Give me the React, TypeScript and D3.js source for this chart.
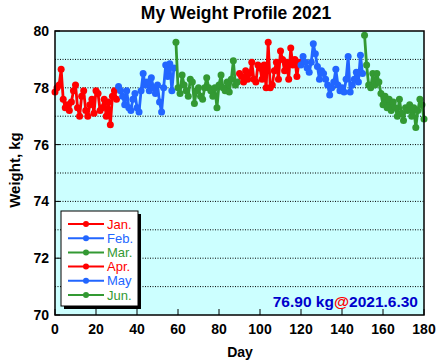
import React from "react";
import * as d3 from "d3";

// monthly weights, day index 0 = Jan 1
const janDays = d3.range(0, 31);
const janVals = [77.85, 78.0, 78.1, 78.65, 77.6, 77.3, 77.4, 77.2, 77.5, 77.9, 78.1, 77.3, 77.0, 77.7, 77.9, 77.2, 77.0, 77.4, 77.6, 77.1, 77.9, 77.8, 77.2, 77.3, 77.6, 77.0, 77.5, 76.7, 77.7, 77.9, 77.6];
const febDays = d3.range(31, 59);
const febVals = [78.05, 77.9, 77.7, 77.4, 77.9, 77.3, 77.2, 77.6, 77.8, 77.3, 77.15, 77.9, 78.5, 78.1, 78.2, 77.9, 78.35, 78.0, 77.8, 78.1, 77.5, 77.15, 78.0, 78.8, 78.4, 78.85, 77.9, 78.7];
const marDays = d3.range(59, 90);
const marVals = [79.6, 78.0, 77.8, 78.45, 78.1, 77.9, 77.7, 78.3, 78.2, 77.45, 77.9, 78.0, 77.7, 77.6, 78.0, 78.35, 78.0, 77.9, 77.7, 78.0, 77.3, 78.1, 78.45, 78.0, 77.9, 78.2, 77.85, 78.3, 78.95, 78.1, 78.2];
const aprDays = d3.range(90, 120);
const aprVals = [78.5, 78.4, 78.2, 78.6, 78.3, 78.5, 78.9, 78.3, 78.2, 78.8, 78.7, 78.3, 78.8, 78.0, 79.6, 78.0, 78.1, 78.6, 78.9, 78.3, 79.3, 79.0, 78.6, 78.9, 78.3, 79.4, 78.8, 79.0, 78.4, 78.9];
const mayDays = d3.range(120, 151);
const mayVals = [78.8, 79.1, 78.9, 78.7, 78.55, 78.9, 79.55, 79.2, 78.75, 78.3, 78.6, 78.5, 78.3, 78.1, 77.75, 78.0, 78.2, 78.65, 78.1, 77.9, 78.0, 77.85, 78.3, 79.1, 77.85, 78.1, 78.3, 78.55, 78.2, 79.15, 78.5];
const junDays = d3.range(151, 181);
const junVals = [79.85, 78.8, 78.1, 78.0, 78.5, 78.1, 78.5, 78.2, 77.8, 77.4, 77.7, 77.3, 77.6, 77.2, 77.5, 77.3, 77.0, 77.6, 77.1, 76.85, 77.3, 77.2, 77.4, 77.0, 77.3, 76.6, 77.2, 77.6, 77.4, 76.9];

const monthNames = ["Jan.", "Feb.", "Mar.", "Apr.", "May", "Jun."];
const monthColors = ["#ff0000", "#2266ff", "#339933", "#ff0000", "#2266ff", "#339933"];
const xTicks = [0, 20, 40, 60, 80, 100, 120, 140, 160, 180];
const yTicks = [70, 72, 74, 76, 78, 80];
const gridVals = [71, 72, 73, 74, 75, 76, 77, 78, 79];

const series = [
  [janDays, janVals],
  [febDays, febVals],
  [marDays, marVals],
  [aprDays, aprVals],
  [mayDays, mayVals],
  [junDays, junVals],
].map(([days, vals], i) => ({
  name: monthNames[i],
  color: monthColors[i],
  points: (days as number[]).map((d, j) => ({ x: d, y: (vals as number[])[j] })),
}));

export default function App() {
  const W = 441;
  const H = 364;
  const left = 55, right = 424, top = 31, bottom = 315;
  const font = "'Liberation Sans', Arial, sans-serif";

  const x = d3.scaleLinear().domain([0, 180]).range([left, right]);
  const y = d3.scaleLinear().domain([70, 80]).range([bottom, top]);
  const line = d3.line<{ x: number; y: number }>().x((d) => x(d.x)).y((d) => y(d.y));

  // legend box
  const lx = 61, ly = 211, lw = 77, lh = 95;

  return (
    <div style={{ position: "absolute", left: 0, top: 0 }}>
      <svg width={W} height={H} style={{ display: "block", background: "#fff" }} fontFamily={font}>
        <text x={236} y={19} textAnchor="middle" fontSize={17.5} fontWeight="bold">My Weight Profile 2021</text>
        <rect x={left} y={top} width={right - left} height={bottom - top} fill="#ccffff" />
        {gridVals.map((g) => (
          <line key={g} x1={left} x2={right} y1={y(g)} y2={y(g)} stroke="#000" strokeWidth={1} strokeDasharray="1,1.5" />
        ))}
        {yTicks.map((t) => (
          <g key={t}>
            <line x1={left} x2={left + 5} y1={y(t)} y2={y(t)} stroke="#000" />
            <text x={left - 6} y={y(t)} dy="0.35em" textAnchor="end" fontSize={14} fontWeight="bold">{t}</text>
          </g>
        ))}
        {xTicks.map((t) => (
          <g key={t}>
            <line x1={x(t)} x2={x(t)} y1={bottom} y2={bottom - 6} stroke="#000" />
            <text x={x(t)} y={bottom + 19} textAnchor="middle" fontSize={14} fontWeight="bold">{t}</text>
          </g>
        ))}
        {series.map((s) => (
          <g key={s.name}>
            <path d={line(s.points) || ""} fill="none" stroke={s.color} strokeWidth={2.8} strokeLinejoin="round" />
            {s.points.map((p, i) => (
              <circle key={i} cx={x(p.x)} cy={y(p.y)} r={3.5} fill={s.color} />
            ))}
          </g>
        ))}
        <rect x={left} y={top} width={right - left} height={bottom - top} fill="none" stroke="#000" strokeWidth={1.5} />
        <text x={240} y={357} textAnchor="middle" fontSize={14} fontWeight="bold">Day</text>
        <text transform={`translate(20,${(top + bottom) / 2 - 3}) rotate(-90)`} textAnchor="middle" fontSize={15} fontWeight="bold">Weight, kg</text>

        <rect x={lx + 3} y={ly + 3} width={lw} height={lh} fill="#000" />
        <rect x={lx} y={ly} width={lw} height={lh} fill="#fff" stroke="#000" strokeWidth={1} />
        {series.map((s, i) => {
          const ry = ly + 13 + i * 14.2;
          return (
            <g key={s.name}>
              <line x1={lx + 7} x2={lx + 43} y1={ry} y2={ry} stroke={s.color} strokeWidth={2} />
              <circle cx={lx + 25} cy={ry} r={3} fill={s.color} />
              <text x={lx + 46} y={ry} dy="0.36em" fontSize={13} fill={s.color}>{s.name}</text>
            </g>
          );
        })}

        <text x={418} y={307} textAnchor="end" fontSize={15.5} fontWeight="bold" fill="#0000cc">
          76.90 kg<tspan fill="#ff0000">@</tspan>2021.6.30
        </text>
      </svg>
    </div>
  );
}
